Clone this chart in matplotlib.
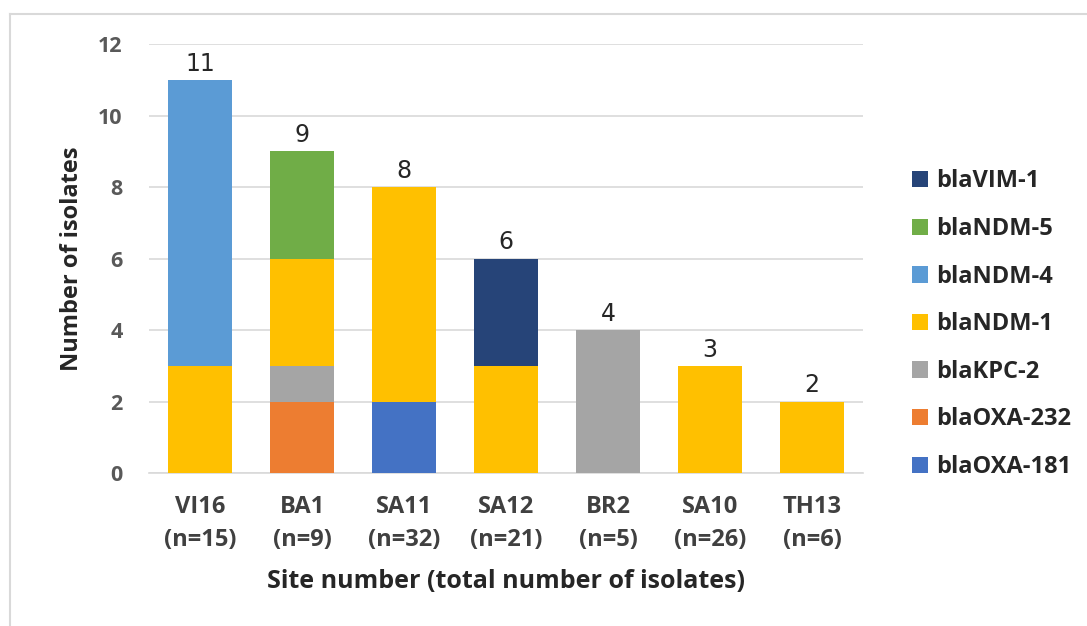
import matplotlib.pyplot as plt
import numpy as np
from matplotlib.lines import Line2D

plt.rcParams["font.family"] = ["Open Sans", "DejaVu Sans"]

# Данные
sites = ["VI16\n(n=15)", "BA1\n(n=9)", "SA11\n(n=32)", "SA12\n(n=21)",
         "BR2\n(n=5)", "SA10\n(n=26)", "TH13\n(n=6)"]
genes = ["blaOXA-181", "blaOXA-232", "blaKPC-2", "blaNDM-1",
         "blaNDM-4", "blaNDM-5", "blaVIM-1"]
colors = ["#4472C4", "#ED7D31", "#A5A5A5", "#FFC000",
          "#5B9BD5", "#70AD47", "#264478"]

oxa181 = [0, 0, 2, 0, 0, 0, 0]
oxa232 = [0, 2, 0, 0, 0, 0, 0]
kpc2 = [0, 1, 0, 0, 4, 0, 0]
ndm1 = [3, 3, 6, 3, 0, 3, 2]
ndm4 = [8, 0, 0, 0, 0, 0, 0]
ndm5 = [0, 3, 0, 0, 0, 0, 0]
vim1 = [0, 0, 0, 3, 0, 0, 0]
series = [oxa181, oxa232, kpc2, ndm1, ndm4, ndm5, vim1]

fig = plt.figure(figsize=(10.87, 6.26), dpi=100)
ax = fig.add_axes([0.1371, 0.2444, 0.6569, 0.6853])

x = np.arange(len(sites))
bottom = np.zeros(len(sites))
bars = []
for vals, col, name in zip(series, colors, genes):
    b = ax.bar(x, vals, 0.63, bottom=bottom, color=col, label=name, zorder=3)
    bars.append(b)
    bottom += np.array(vals)

# Подписи сумм над столбцами
for xi, tot in zip(x, bottom):
    ax.annotate(f"{int(tot)}", (xi, tot), xytext=(0, 3), textcoords="offset points",
                ha="center", va="bottom", fontsize=17, color="#262626",
                family=["DejaVu Sans"])

ax.set_xlim(-0.5, 6.5)
ax.set_ylim(0, 12)
ax.set_yticks(range(0, 13, 2))
ax.yaxis.grid(True, color="#D9D9D9", linewidth=1.2, zorder=0)
ax.set_axisbelow(True)
for s in ["top", "right", "left"]:
    ax.spines[s].set_visible(False)
ax.spines["bottom"].set_color("#D9D9D9")
ax.spines["bottom"].set_linewidth(1.2)
ax.tick_params(axis="both", length=0)
ax.tick_params(axis="y", pad=19)
ax.tick_params(axis="x", pad=16)
ax.set_xticks(x)
ax.set_xticklabels(sites, fontsize=17, fontweight="bold", color="#404040",
                   linespacing=1.5)
for t in ax.get_yticklabels():
    t.set_fontsize(15.5)
    t.set_fontweight("bold")
    t.set_color("#595959")

ax.set_xlabel("Site number (total number of isolates)", fontsize=18,
              fontweight="bold", color="#262626", labelpad=12)
ax.set_ylabel("Number of isolates", fontsize=17, fontweight="bold",
              color="#262626", labelpad=10)

handles = [b for b in bars][::-1]
labels = genes[::-1]
leg = ax.legend(handles, labels, loc="center left", bbox_to_anchor=(0.819, 0.482),
                bbox_transform=fig.transFigure, frameon=False,
                prop={"size": 17, "weight": "bold"}, labelspacing=1.0,
                handlelength=0.7, handleheight=0.7, handletextpad=0.35)
for t in leg.get_texts():
    t.set_color("#262626")

# Рамка картинки
fig.add_artist(Line2D([10 / 1087, 1], [1 - 14 / 626, 1 - 14 / 626],
                      transform=fig.transFigure, color="#D9D9D9", linewidth=1.5))
fig.add_artist(Line2D([10 / 1087, 10 / 1087], [0, 1 - 14 / 626],
                      transform=fig.transFigure, color="#D9D9D9", linewidth=1.5))

fig.savefig("out.png", dpi=100)
